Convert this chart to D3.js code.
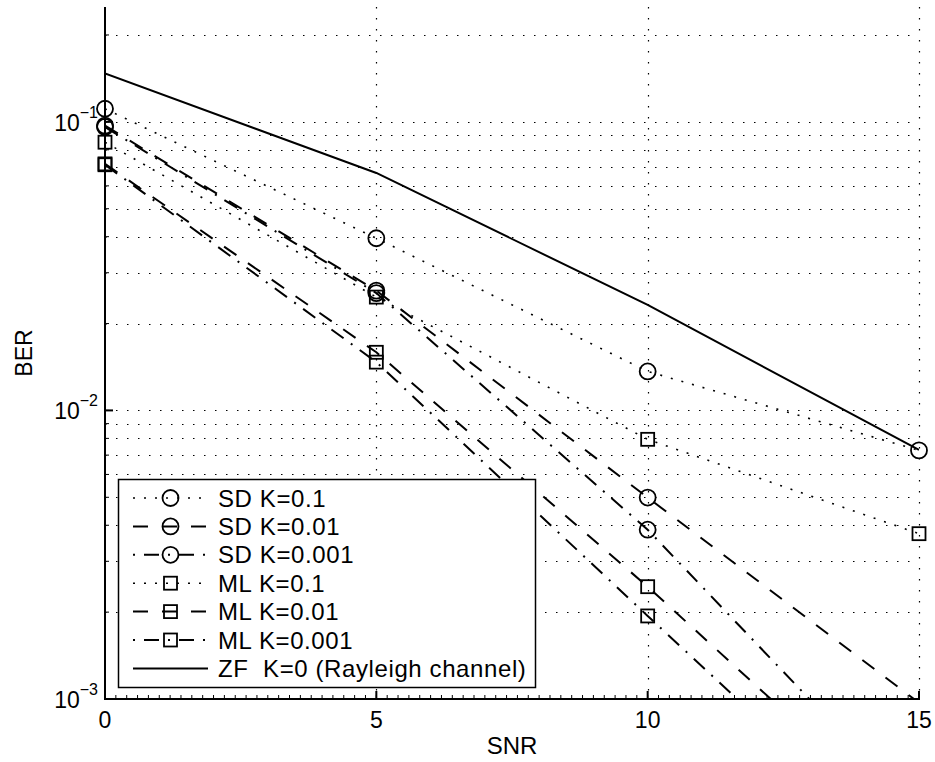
<!DOCTYPE html>
<html>

<head>
    <title>BER vs SNR</title>
    <script src="https://d3js.org/d3.v7.min.js"></script>
    <style>
        body {
            margin: 0;
            padding: 0;
            background: #fff;
        }

        svg text {
            font-family: "Liberation Sans", Arial, sans-serif;
            fill: #000;
        }
    </style>
</head>

<body>
    <script>
        // data
        var snr = [0, 5, 10, 15];
        var sdK01 = [0.111, 0.0395, 0.01365, 0.00727];
        var sdK001 = [0.097, 0.026, 0.00499, 0.00097];
        var sdK0001 = [0.096, 0.0255, 0.00386, 0.0004];
        var mlK01 = [0.085, 0.0247, 0.00794, 0.00374];
        var mlK001 = [0.0715, 0.0159, 0.00245, 0.00034];
        var mlK0001 = [0.071, 0.0147, 0.00194, 0.00026];
        var zfK0 = [0.147, 0.0665, 0.0232, 0.0073];

        var seriesNames = ["SD K=0.1", "SD K=0.01", "SD K=0.001", "ML K=0.1", "ML K=0.01", "ML K=0.001",
            "ZF\u00a0 K=0 (Rayleigh channel)"];
        var xTicks = [0, 5, 10, 15];
        var yTicks = [1e-3, 1e-2, 1e-1];

        var dotted = "2,9", dashed = "15,14", dashdot = "15,9,2,9";
        var series = [
            { name: seriesNames[0], values: sdK01, dash: dotted, marker: "circle", off: 0 },
            { name: seriesNames[1], values: sdK001, dash: dashed, marker: "circle", off: 0 },
            { name: seriesNames[2], values: sdK0001, dash: dashdot, marker: "circle", off: 24 },
            { name: seriesNames[3], values: mlK01, dash: dotted, marker: "square", off: 0 },
            { name: seriesNames[4], values: mlK001, dash: dashed, marker: "square", off: 0 },
            { name: seriesNames[5], values: mlK0001, dash: dashdot, marker: "square", off: 24 },
            { name: seriesNames[6], values: zfK0, dash: null, marker: null, off: 0 }
        ];

        var width = 935,
            height = 762;
        var pLeft = 105, pRight = 919, pTop = 7, pBottom = 699;

        var svg = d3.select("body").append("svg")
            .attr("width", width)
            .attr("height", height);

        var x = d3.scaleLinear().domain([0, 15]).range([pLeft, pRight]);
        var y = d3.scaleLog().domain([1e-3, 0.25]).range([pBottom, pTop]);

        svg.append("clipPath").attr("id", "plot")
            .append("rect")
            .attr("x", pLeft).attr("y", pTop)
            .attr("width", pRight - pLeft).attr("height", pBottom - pTop);

        // grid (log minor lines included)
        var gridY = [];
        [1e-3, 1e-2, 1e-1].forEach(function (d) {
            for (var k = 1; k < 10; k++) {
                var v = d * k;
                if (v <= 0.25 && v > 1.0001e-3) gridY.push(v);
            }
        });
        var grid = svg.append("g")
            .attr("stroke", "#000")
            .attr("stroke-width", 1.2)
            .attr("stroke-dasharray", "1.5,9.5");
        grid.selectAll(".gy").data(gridY).enter().append("line")
            .attr("x1", pLeft).attr("x2", pRight)
            .attr("y1", (d) => Math.round(y(d)) + 0.5)
            .attr("y2", (d) => Math.round(y(d)) + 0.5);
        grid.selectAll(".gx").data(xTicks.slice(1)).enter().append("line")
            .attr("x1", (d) => Math.round(x(d)) + 0.5)
            .attr("x2", (d) => Math.round(x(d)) + 0.5)
            .attr("y1", pTop).attr("y2", pBottom);

        // series lines
        var line = d3.line()
            .x((d, i) => x(snr[i]))
            .y((d) => y(d));

        var plot = svg.append("g").attr("clip-path", "url(#plot)");
        series.forEach(function (s) {
            plot.append("path")
                .attr("d", line(s.values))
                .attr("fill", "none")
                .attr("stroke", "#000")
                .attr("stroke-width", s.dash == dotted ? 1.6 : 2)
                .attr("stroke-dasharray", s.dash);
        });

        function marker(g, type, cx, cy) {
            if (type == "circle") {
                g.append("circle")
                    .attr("cx", cx).attr("cy", cy).attr("r", 8)
                    .attr("fill", "none").attr("stroke", "#000").attr("stroke-width", 1.8);
            } else if (type == "square") {
                g.append("rect")
                    .attr("x", cx - 6.5).attr("y", cy - 6.5)
                    .attr("width", 13).attr("height", 13)
                    .attr("fill", "none").attr("stroke", "#000").attr("stroke-width", 1.8);
            }
        }

        var marks = svg.append("g");
        series.forEach(function (s) {
            if (!s.marker) return;
            s.values.forEach(function (v, i) {
                if (v >= 1e-3) marker(marks, s.marker, x(snr[i]), y(v));
            });
        });

        // axes
        var axes = svg.append("g").attr("stroke", "#000").attr("stroke-width", 2);
        axes.append("line").attr("x1", pLeft).attr("x2", pLeft).attr("y1", pTop).attr("y2", pBottom + 1);
        axes.append("line").attr("x1", pLeft - 1).attr("x2", pRight + 1).attr("y1", pBottom).attr("y2", pBottom);

        var minorX = d3.range(0, 15.001, 0.2);
        axes.selectAll(".mx").data(minorX).enter().append("line")
            .attr("stroke-width", 1)
            .attr("x1", (d) => x(d)).attr("x2", (d) => x(d))
            .attr("y1", pBottom).attr("y2", pBottom - 4);
        axes.selectAll(".tx").data(xTicks).enter().append("line")
            .attr("x1", (d) => x(d)).attr("x2", (d) => x(d))
            .attr("y1", pBottom).attr("y2", pBottom - 8);
        axes.selectAll(".my").data(gridY).enter().append("line")
            .attr("stroke-width", 1)
            .attr("x1", pLeft).attr("x2", pLeft + 4)
            .attr("y1", (d) => y(d)).attr("y2", (d) => y(d));
        axes.selectAll(".ty").data(yTicks).enter().append("line")
            .attr("x1", pLeft).attr("x2", pLeft + 8)
            .attr("y1", (d) => y(d)).attr("y2", (d) => y(d));

        svg.selectAll(".xl").data(xTicks).enter().append("text")
            .attr("x", (d) => x(d))
            .attr("y", pBottom + 29)
            .attr("text-anchor", "middle")
            .attr("font-size", 23)
            .text((d) => d);

        var yl = svg.selectAll(".yl").data(yTicks).enter().append("text")
            .attr("x", 98)
            .attr("y", (d) => y(d) + 9)
            .attr("text-anchor", "end")
            .attr("font-size", 23);
        yl.append("tspan").text("10");
        yl.append("tspan")
            .attr("font-size", 16)
            .attr("dy", -13)
            .text((d) => "\u2212" + Math.round(-Math.log10(d)));

        svg.append("text")
            .attr("x", (pLeft + pRight) / 2)
            .attr("y", 754)
            .attr("text-anchor", "middle")
            .attr("font-size", 24)
            .text("SNR");
        svg.append("text")
            .attr("transform", "translate(32," + ((pTop + pBottom) / 2) + ") rotate(-90)")
            .attr("text-anchor", "middle")
            .attr("font-size", 23)
            .text("BER");

        // legend
        var legend = svg.append("g");
        legend.append("rect")
            .attr("x", 118.5).attr("y", 479.5)
            .attr("width", 417).attr("height", 208)
            .attr("fill", "#fff")
            .attr("stroke", "#000")
            .attr("stroke-width", 1.5);
        series.forEach(function (s, i) {
            var cy = 498 + i * 28.4;
            legend.append("line")
                .attr("x1", 133).attr("x2", 208)
                .attr("y1", cy).attr("y2", cy)
                .attr("stroke", "#000")
                .attr("stroke-width", s.dash == dotted ? 1.6 : 2)
                .attr("stroke-dasharray", s.dash)
                .attr("stroke-dashoffset", s.off);
            marker(legend, s.marker, 170.5, cy);
            legend.append("text")
                .attr("x", 218)
                .attr("y", cy + 8.5)
                .attr("font-size", 24)
                .attr("letter-spacing", 0.6)
                .text(s.name);
        });
    </script>
</body>

</html>
